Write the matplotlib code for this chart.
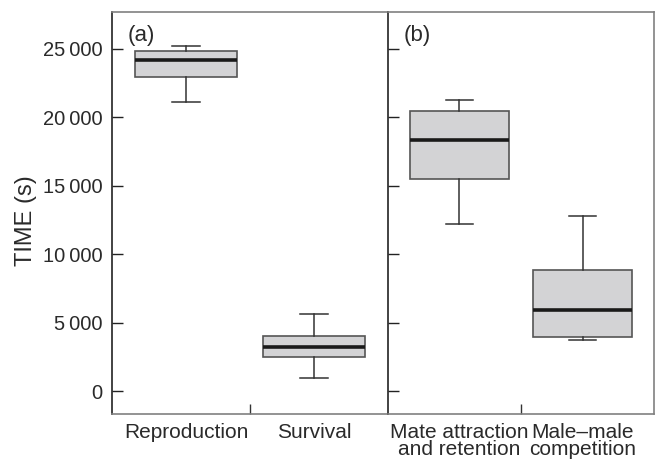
import matplotlib
matplotlib.use("Agg")
import matplotlib.pyplot as plt

plt.rcParams['font.family'] = ['Liberation Sans', 'DejaVu Sans']

# panel (a)
cats_a = ['Reproduction', 'Survival']
whislo_a = [21100, 970]
q1_a = [22950, 2480]
med_a = [24220, 3230]
q3_a = [24870, 4020]
whishi_a = [25200, 5620]

# panel (b)
cats_b = ['Mate attraction\nand retention', 'Male\u2013male\ncompetition']
whislo_b = [12190, 3720]
q1_b = [15530, 3920]
med_b = [18320, 5910]
q3_b = [20460, 8830]
whishi_b = [21290, 12770]

yticks = [0, 5000, 10000, 15000, 20000, 25000]
ytick_labels = ['0', '5\u2009000', '10\u2009000', '15\u2009000', '20\u2009000', '25\u2009000']

txt = '#2a2a2a'
edge = '#555555'
grey_spine = '#808080'

fig = plt.figure(figsize=(6.55, 4.61), dpi=100)
ax1 = fig.add_axes([112/655, 1 - 414.3/461, 276/655, 402/461])
ax2 = fig.add_axes([388/655, 1 - 414.3/461, 266/655, 402/461], sharey=ax1)


def draw(ax, cats, lo, q1, med, q3, hi):
    stats = [dict(whislo=lo[i], q1=q1[i], med=med[i], q3=q3[i], whishi=hi[i], label=cats[i])
             for i in range(len(cats))]
    ax.bxp(stats, positions=[1, 2], widths=0.8, capwidths=0.22, showfliers=False,
           patch_artist=True,
           boxprops=dict(facecolor='#d3d3d5', edgecolor=edge, linewidth=1.2),
           medianprops=dict(color='#1a1a1a', linewidth=2.6),
           whiskerprops=dict(color='#333333', linewidth=1.1),
           capprops=dict(color='#333333', linewidth=1.1))
    ax.set_xlim(0.42, 2.58)
    ax.set_ylim(-1700, 27680)
    ax.set_xticks([1, 2])
    ax.set_xticklabels(cats, fontsize=15, linespacing=0.9, va='top', color=txt)
    ax.tick_params(axis='x', which='major', length=0, pad=6)
    ax.set_xticks([1.5], minor=True)
    ax.tick_params(axis='x', which='minor', direction='in', length=7, width=1, color='#333333')
    ax.tick_params(axis='y', direction='in', length=8, width=1, color='#222222')
    ax.spines['left'].set_color('#222222')
    ax.spines['left'].set_linewidth(1.2)
    for s in ['top', 'bottom', 'right']:
        ax.spines[s].set_color(grey_spine)
        ax.spines[s].set_linewidth(1.2)


draw(ax1, cats_a, whislo_a, q1_a, med_a, q3_a, whishi_a)
draw(ax2, cats_b, whislo_b, q1_b, med_b, q3_b, whishi_b)
ax1.text(0.055, 0.968, '(a)', transform=ax1.transAxes, fontsize=16, ha='left', va='top', color=txt)
ax2.text(0.06, 0.968, '(b)', transform=ax2.transAxes, fontsize=16, ha='left', va='top', color=txt)

ax1.set_yticks(yticks)
ax1.set_yticklabels(ytick_labels, fontsize=14.5, color=txt)
ax1.tick_params(axis='y', pad=7)
ax1.spines['right'].set_visible(False)
ax2.tick_params(axis='y', labelleft=False)
ax1.set_ylabel('TIME (s)', fontsize=17, color=txt)
ax1.yaxis.set_label_coords(-0.27, 0.483)

fig.savefig('out.png', dpi=100)
